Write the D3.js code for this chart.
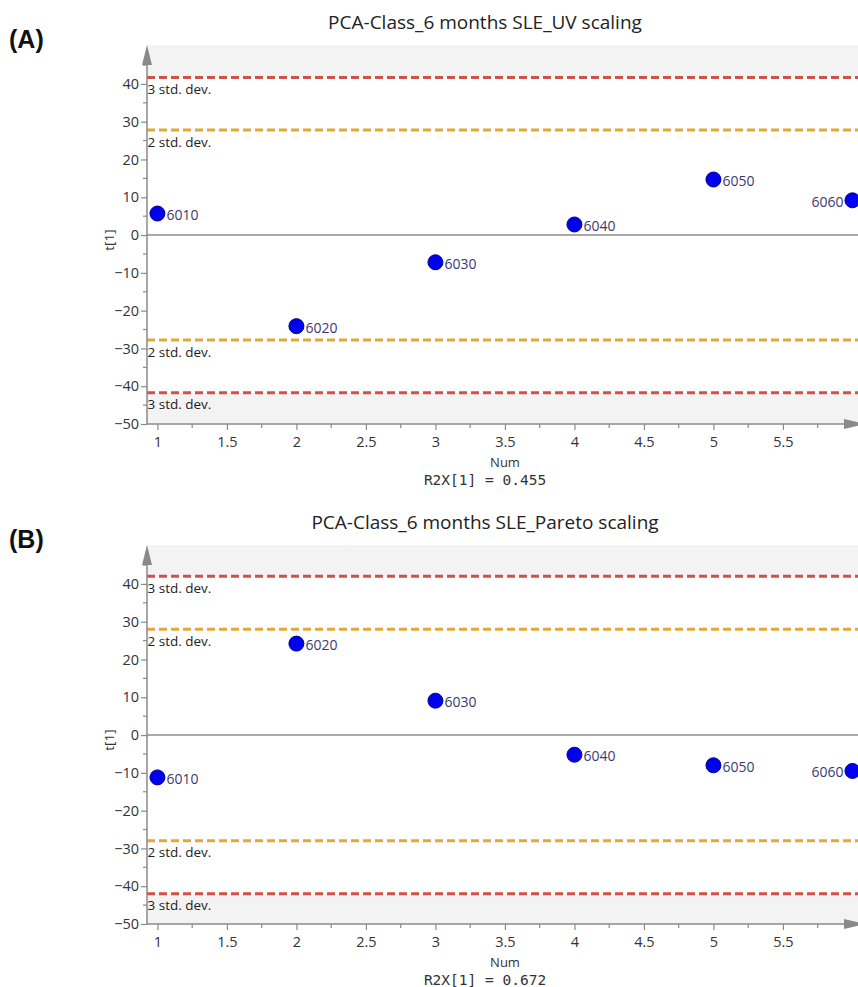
<!DOCTYPE html>
<html>
<head>
<meta charset="utf-8">
<script src="https://cdn.jsdelivr.net/npm/d3@7"></script>
<style>
  html, body { margin: 0; padding: 0; background: #fff; }
  svg { display: block; }
</style>
</head>
<body>
<svg id="chart" width="858" height="987"></svg>
<script>
// ---- data ----
const nums = [1, 2, 3, 4, 5, 6];
const obsLabels = ["6010", "6020", "6030", "6040", "6050", "6060"];
const tUV = [5.7, -24.1, -7.2, 2.8, 14.7, 9.2];
const tPareto = [-11.2, 24.2, 9.1, -5.2, -8.0, -9.5];
const panelTags = ["(A)", "(B)"];
const panelTitles = ["PCA-Class_6 months SLE_UV scaling", "PCA-Class_6 months SLE_Pareto scaling"];
const r2xValues = ["0.455", "0.672"];
const stdUV = [27.8, 41.7];      // 2 std. dev., 3 std. dev.
const stdPareto = [28.0, 42.0];
const yTickValues = [-50, -40, -30, -20, -10, 0, 10, 20, 30, 40];
const xTickValues = [1, 1.5, 2, 2.5, 3, 3.5, 4, 4.5, 5, 5.5];

const panels = [
  { tag: panelTags[0], title: panelTitles[0], values: tUV, std: stdUV, r2x: r2xValues[0], oy: 0 },
  { tag: panelTags[1], title: panelTitles[1], values: tPareto, std: stdPareto, r2x: r2xValues[1], oy: 500 }
];

const svg = d3.select("#chart");
const uiFont = "'Open Sans', 'Noto Sans', sans-serif";
const axisColor = "#8a8a8a";

const x = d3.scaleLinear().domain([0.925, 6.04]).range([147, 858]);
const y = d3.scaleLinear().domain([-50, 50.3]).range([424, 45]);

panels.forEach(p => {
  const g = svg.append("g").attr("transform", `translate(0,${p.oy})`);
  const left = x.range()[0], right = 870;
  const top = y.range()[1], bottom = y.range()[0];

  // panel tag
  g.append("text").attr("x", 9).attr("y", 48)
    .attr("font-family", "'Liberation Sans', Arial, sans-serif")
    .attr("font-weight", "bold").attr("font-size", 25).attr("fill", "#111")
    .text(p.tag);

  // title
  g.append("text").attr("x", 485).attr("y", 29).attr("text-anchor", "middle")
    .attr("font-family", uiFont).attr("font-size", 19).attr("fill", "#222")
    .text(p.title);

  // shaded bands beyond 3 std. dev.
  const s2 = p.std[0], s3 = p.std[1];
  g.append("rect").attr("x", left).attr("y", top).attr("width", right - left)
    .attr("height", y(s3) - top).attr("fill", "#f3f3f3");
  g.append("rect").attr("x", left).attr("y", y(-s3)).attr("width", right - left)
    .attr("height", bottom - y(-s3)).attr("fill", "#f3f3f3");

  // zero line
  g.append("line").attr("x1", left).attr("x2", right)
    .attr("y1", y(0)).attr("y2", y(0))
    .attr("stroke", "#8c8c8c").attr("stroke-width", 1.5);

  // std dev lines
  const limits = [
    { v: s3, c: "#cf5148", t: "3 std. dev." },
    { v: s2, c: "#e2a83a", t: "2 std. dev." },
    { v: -s2, c: "#e2a83a", t: "2 std. dev." },
    { v: -s3, c: "#cf5148", t: "3 std. dev." }
  ];
  limits.forEach(l => {
    g.append("line").attr("x1", left).attr("x2", right)
      .attr("y1", y(l.v)).attr("y2", y(l.v))
      .attr("stroke", l.c).attr("stroke-width", 3)
      .attr("stroke-dasharray", "8,4");
    g.append("text").attr("x", left + 0.5).attr("y", y(l.v) + 16.5)
      .attr("font-family", uiFont).attr("font-size", 13.5).attr("fill", "#222")
      .text(l.t);
  });

  // y axis
  const yAxis = d3.axisLeft(y).tickValues(yTickValues).tickSize(6).tickPadding(2)
    .tickFormat(d3.format("d"));
  const ya = g.append("g").attr("transform", `translate(${left},0)`).call(yAxis);
  ya.select(".domain").remove();
  ya.selectAll(".tick line").attr("stroke", axisColor).attr("stroke-width", 1.2);
  ya.selectAll(".tick text").attr("font-family", uiFont).attr("font-size", 14.5)
    .attr("fill", "#333");
  // minor y ticks
  const yMinor = d3.range(-45, 50, 10);
  g.selectAll(".yminor").data(yMinor).enter().append("line")
    .attr("x1", left - 4).attr("x2", left).attr("y1", d => y(d)).attr("y2", d => y(d))
    .attr("stroke", axisColor).attr("stroke-width", 1.2);
  g.append("line").attr("x1", left).attr("x2", left).attr("y1", bottom).attr("y2", top + 18)
    .attr("stroke", axisColor).attr("stroke-width", 1.5);
  g.append("path").attr("d", `M${left},${top} L${left - 5},${top + 20} L${left + 5},${top + 20} Z`)
    .attr("fill", axisColor);

  // x axis
  const xAxis = d3.axisBottom(x).tickValues(xTickValues).tickSize(6).tickPadding(7)
    .tickFormat(d => d3.format("")(d));
  const xa = g.append("g").attr("transform", `translate(0,${bottom})`).call(xAxis);
  xa.select(".domain").remove();
  xa.selectAll(".tick line").attr("stroke", axisColor).attr("stroke-width", 1.2);
  xa.selectAll(".tick text").attr("font-family", uiFont).attr("font-size", 14.5)
    .attr("fill", "#333");
  const xMinor = d3.range(1.25, 6.0, 0.5);
  g.selectAll(".xminor").data(xMinor).enter().append("line")
    .attr("x1", d => x(d)).attr("x2", d => x(d)).attr("y1", bottom).attr("y2", bottom + 4)
    .attr("stroke", axisColor).attr("stroke-width", 1.2);
  g.append("line").attr("x1", left).attr("x2", 846).attr("y1", bottom).attr("y2", bottom)
    .attr("stroke", axisColor).attr("stroke-width", 1.5);
  g.append("path").attr("d", `M866,${bottom} L844,${bottom - 5} L844,${bottom + 5} Z`)
    .attr("fill", axisColor);

  // axis titles
  g.append("text").attr("x", 505).attr("y", 467).attr("text-anchor", "middle")
    .attr("font-family", uiFont).attr("font-size", 13).attr("fill", "#333")
    .text("Num");
  g.append("text").attr("x", 485).attr("y", 485).attr("text-anchor", "middle")
    .attr("font-family", "'DejaVu Sans Mono', 'Liberation Mono', monospace")
    .attr("font-size", 14.5).attr("fill", "#333")
    .text(`R2X[1] = ${p.r2x}`);
  g.append("text").attr("transform", `translate(114,${y(0) + 5}) rotate(-90)`)
    .attr("text-anchor", "middle")
    .attr("font-family", uiFont).attr("font-size", 13.5).attr("fill", "#333")
    .text("t[1]");

  // points
  const pts = nums.map((n, i) => ({ n, v: p.values[i], label: obsLabels[i] }));
  g.selectAll(".pt").data(pts).enter().append("circle")
    .attr("cx", d => x(d.n)).attr("cy", d => y(d.v)).attr("r", 7.5)
    .attr("fill", "#0000ee").attr("stroke", "#00009a").attr("stroke-width", 1);
  g.selectAll(".lbl").data(pts).enter().append("text")
    .attr("x", d => d.n === 6 ? x(d.n) - 9 : x(d.n) + 9)
    .attr("y", d => y(d.v) + 6.5)
    .attr("text-anchor", d => d.n === 6 ? "end" : "start")
    .attr("font-family", uiFont).attr("font-size", 14).attr("fill", "#3a3a70")
    .text(d => d.label);
});
</script>
</body>
</html>
